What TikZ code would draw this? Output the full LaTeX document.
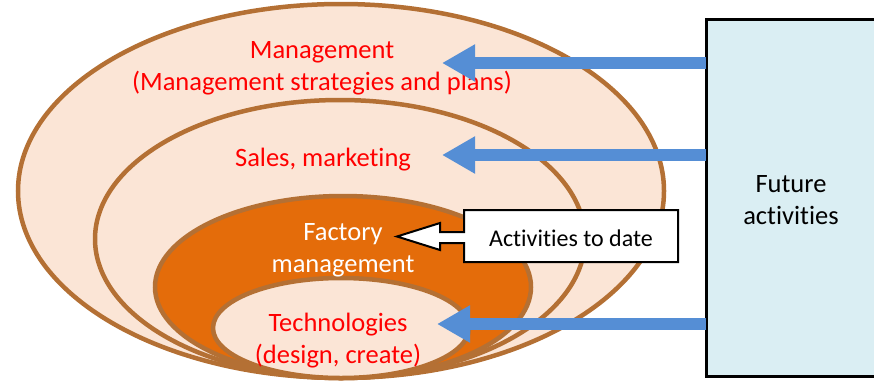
\documentclass[tikz,border=0pt]{standalone}
\usepackage{fontspec}
\setmainfont[Ligatures=NoCommon]{Carlito}
\usetikzlibrary{arrows.meta}
\definecolor{ringline}{RGB}{180,112,52}
\definecolor{peach}{RGB}{251,229,214}
\definecolor{factory}{RGB}{228,108,10}
\definecolor{arrowblue}{RGB}{85,142,213}
\definecolor{futurefill}{RGB}{218,238,243}
\newcommand\ringfont{\fontsize{26.5}{32}\selectfont}
\newcommand\notefont{\fontsize{24}{29}\selectfont}

\begin{document}
\begin{tikzpicture}[x=1pt, y=-1pt, line join=miter,
		ring/.style={draw=ringline, line width=4.5pt, fill=peach},
		ringtext/.style={text=red, align=center, font=\ringfont, inner sep=0pt},
		futurebox/.style={draw=black, line width=3pt, fill=futurefill, outer sep=0pt,
			minimum width=170pt, minimum height=357pt, align=center, font=\ringfont},
		bluearrow/.style={-{Triangle[width=35pt,length=33pt]}, line width=12pt, draw=arrowblue},
		datetext/.style={font=\notefont, inner sep=0pt}]
	\useasboundingbox (0,0) rectangle (874,380);
	\clip (0,0) rectangle (874,380);
	% rings, outside in
	\draw[ring] (341,191) ellipse (323 and 187);
	\draw[ring] (340,239) ellipse (245 and 139);
	\draw[ring, fill=factory] (343,287) ellipse (188 and 91);
	\draw[ring] (341,328) ellipse (128 and 50);
	% ring labels
	\node[ringtext] (mgmt) at (322,68.5) {Management\\(Management strategies and plans)};
	\node[ringtext] (sales) at (323,159.5) {Sales, marketing};
	\node[ringtext, text=white] (fact) at (343,250.5) {Factory\\management};
	\node[ringtext] (tech) at (338,340.5) {Technologies\\(design, create)};
	% future activities
	\node[futurebox] (future) at (791,197.5) {\strut Future\\activities};
	\coordinate (tipM) at (442,63);
	\coordinate (tipS) at (442,155);
	\coordinate (tipT) at (437,324);
	\foreach \t in {tipM,tipS,tipT}
		\draw[bluearrow] (future.west |- \t) -- (\t);
	% activities to date callout
	\coordinate (dateNW) at (464,210);
	\draw[line width=2pt, fill=white] (678,210) -- (dateNW) -- ++(0,22) -- ++(-24,0) -- ++(0,-9)
		-- ++(-43,13.5) -- ++(43,13.5) -- ++(0,-7) -- ++(24,0) -- (464,262) -- (678,262) -- cycle;
	\node[datetext] (todate) at (571,238) {Activities to date};
\end{tikzpicture}
\end{document}
